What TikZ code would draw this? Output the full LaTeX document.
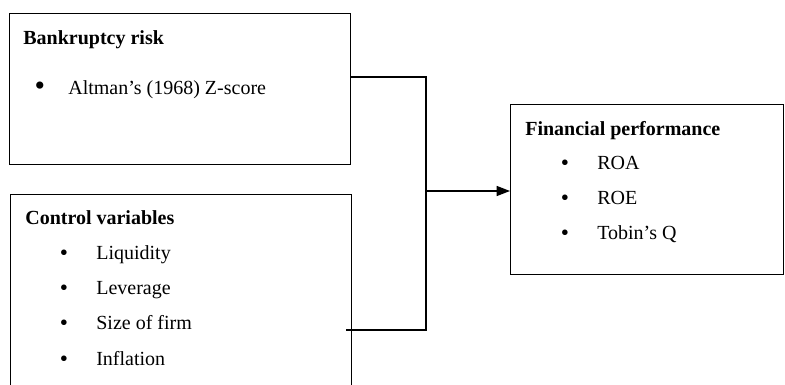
\documentclass[tikz,border=0pt]{standalone}
\usepackage{fontspec}
\setmainfont{Liberation Serif}
\usetikzlibrary{arrows.meta,positioning}

\begin{document}
\begin{tikzpicture}[x=0.6pt,y=-0.6pt,
    box/.style = {draw, line width=0.8pt, anchor=north west, inner sep=0pt},
    head/.style = {anchor=base west, inner sep=0pt, font=\fontsize{12}{14}\selectfont\bfseries},
    item/.style = {anchor=base west, inner sep=0pt, font=\fontsize{12}{14}\selectfont},
    dot/.style = {anchor=base, inner sep=0pt, font=\fontsize{14}{14}\selectfont},
    link/.style = {line width=0.8pt}]
    \useasboundingbox (0,0) rectangle (785,385);
    \clip (0,0) rectangle (785,385);
    % boxes
    \node[box, minimum width=204.6pt, minimum height=90.6pt] (risk) at (9,13) {};
    \node[box, minimum width=204.6pt, minimum height=135.6pt] (control) at (10,194) {};
    \node[box, minimum width=163.8pt, minimum height=102pt] (perf) at (510,104) {};
    % bankruptcy risk
    \node[head] (riskhead) at (23,44) {Bankruptcy risk};
    \node[dot, font=\fontsize{18}{14}\selectfont] (b0) at (40,95) {•};
    \node[item] (zscore) at (68,94) {Altman’s (1968) Z-score};
    % control variables
    \node[head] (ctrlhead) at (25,224) {Control variables};
    \node[dot] (b1) at (64,260) {•};
    \node[item] (liq) at (96,259) {Liquidity};
    \node[dot] (b2) at (64,295) {•};
    \node[item] (lev) at (96,294) {Leverage};
    \node[dot] (b3) at (64,330) {•};
    \node[item] (size) at (96,329) {Size of firm};
    \node[dot] (b4) at (64,366) {•};
    \node[item] (infl) at (96,365) {Inflation};
    % financial performance
    \node[head] (perfhead) at (525,135) {Financial performance};
    \node[dot] (b5) at (565,170) {•};
    \node[item] (roa) at (597,169) {ROA};
    \node[dot] (b6) at (565,205) {•};
    \node[item] (roe) at (597,204) {ROE};
    \node[dot] (b7) at (565,240) {•};
    \node[item] (tobin) at (597,239) {Tobin’s Q};
    % connectors
    \coordinate (j) at (426,191);
    \draw[link] (risk.north east) ++(0,64) -| (j);
    \draw[link] (control.north east) ++(-6,136) -| (j);
    \draw[link, -{Triangle[length=8pt,width=6pt]}] (j) -- (perf.west |- j);
\end{tikzpicture}
\end{document}
